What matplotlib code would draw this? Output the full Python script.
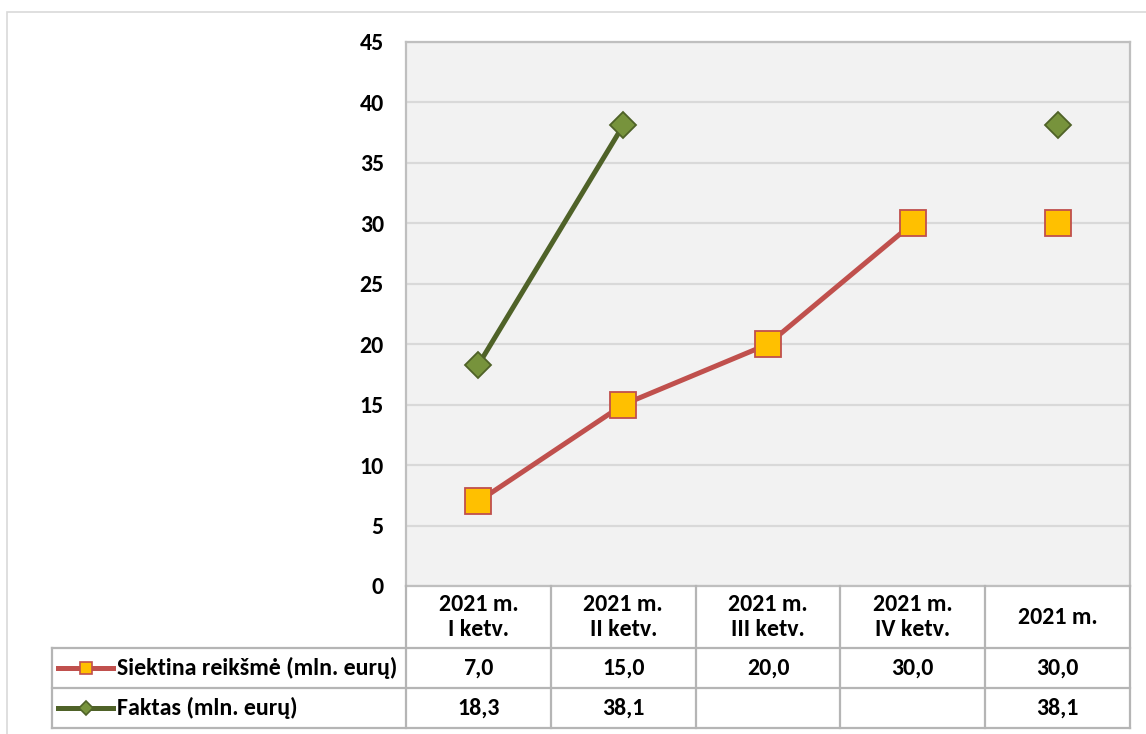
import numpy as np
import matplotlib
matplotlib.use("Agg")
import matplotlib.pyplot as plt
from matplotlib.lines import Line2D
from matplotlib.patches import Rectangle
import matplotlib.transforms as mtransforms

plt.rcParams['font.family'] = ['Carlito', 'DejaVu Sans']
plt.rcParams['font.weight'] = 'bold'

categories = ["2021 m.\nI ketv.", "2021 m.\nII ketv.", "2021 m.\nIII ketv.", "2021 m.\nIV ketv.", "2021 m."]
target = [7.0, 15.0, 20.0, 30.0, 30.0]
actual = [18.3, 38.1, np.nan, np.nan, 38.1]
series_names = ["Siektina reikšmė (mln. eurų)", "Faktas (mln. eurų)"]
yticks = [0, 5, 10, 15, 20, 25, 30, 35, 40, 45]

W, H = 1146, 734
fig = plt.figure(figsize=(W / 100, H / 100), dpi=100)

def fx(px):
    return px / W

def fy(py):
    return 1 - py / H

# figure outer border
fig.add_artist(Rectangle((fx(7), fy(800)), fx(1200), fy(12) - fy(800), transform=fig.transFigure,
                         fill=False, edgecolor='#D9D9D9', linewidth=1.2))

L, R, T, B = 406, 1130, 42, 586
ax = fig.add_axes([fx(L), fy(B), fx(R - L), fy(T) - fy(B)])
ax.set_facecolor('#F2F2F2')
n = len(categories)
x = np.arange(n)
ax.set_xlim(-0.5, n - 0.5)
ax.set_ylim(0, 45)
fs = 17.2
ax.set_yticks(yticks)
ax.set_yticklabels([str(v) for v in yticks], fontsize=fs, fontweight='bold')
ax.tick_params(axis='y', length=0, pad=16)
ax.set_xticks([])
ax.grid(axis='y', color='#D9D9D9', linewidth=1.6)
ax.set_axisbelow(True)
for s in ax.spines.values():
    s.set_color('#BFBFBF')
    s.set_linewidth(1.6)

red = '#C0504D'
sq_fill = '#FFC000'
green = '#4F6228'
dia_fill = '#77933C'

# target: line over quarters, markers at all points
ax.plot(x[:4], target[:4], color=red, linewidth=3.6, zorder=3, solid_capstyle='butt')
ax.plot(x, target, linestyle='none', marker='s', markersize=19, markerfacecolor=sq_fill,
        markeredgecolor=red, markeredgewidth=1.3, zorder=4)
ax.plot(x[:4], actual[:4], color=green, linewidth=3.6, zorder=3)
ax.plot(x, actual, linestyle='none', marker='D', markersize=13.5, markerfacecolor=dia_fill,
        markeredgecolor=green, markeredgewidth=1.3, zorder=4)

# data table
tc = '#B5B5B5'
tlw = 1.6
r0, r1, r2, r3 = 586, 648, 688, 728
TL = 52
def hline(y, x0, x1):
    fig.add_artist(Line2D([fx(x0), fx(x1)], [fy(y), fy(y)], transform=fig.transFigure, color=tc, linewidth=tlw))
def vline(xp, y0, y1):
    fig.add_artist(Line2D([fx(xp), fx(xp)], [fy(y0), fy(y1)], transform=fig.transFigure, color=tc, linewidth=tlw))

hline(r1, TL, R)
hline(r2, TL, R)
hline(r3, TL, R)
vline(TL, r1, r3)
colw = (R - L) / n
for i in range(n + 1):
    vline(L + i * colw, r0, r3)

trans = mtransforms.blended_transform_factory(ax.transData, fig.transFigure)
for i, c in enumerate(categories):
    ax.text(i, fy((r0 + r1) / 2), c, transform=trans, ha='center', va='center', fontsize=fs,
            fontweight='bold', linespacing=1.2, clip_on=False)
    ax.text(i, fy((r1 + r2) / 2), f"{target[i]:.1f}".replace('.', ','), transform=trans, ha='center',
            va='center', fontsize=fs, fontweight='bold', clip_on=False)
    if not np.isnan(actual[i]):
        ax.text(i, fy((r2 + r3) / 2), f"{actual[i]:.1f}".replace('.', ','), transform=trans, ha='center',
                va='center', fontsize=fs, fontweight='bold', clip_on=False)

# legend keys in table
for row, (ya, yb) in enumerate([(r1, r2), (r2, r3)]):
    yc = fy((ya + yb) / 2)
    col = red if row == 0 else green
    fc = sq_fill if row == 0 else dia_fill
    mk = 's' if row == 0 else 'D'
    ms = 9 if row == 0 else 7
    fig.add_artist(Line2D([fx(58), fx(113)], [yc, yc], transform=fig.transFigure, color=col, linewidth=3.6))
    fig.add_artist(Line2D([fx(86)], [yc], transform=fig.transFigure, linestyle='none', marker=mk,
                          markersize=ms, markerfacecolor=fc, markeredgecolor=col, markeredgewidth=1.2))
    fig.text(fx(117), yc, series_names[row], ha='left', va='center', fontsize=fs, fontweight='bold')

fig.savefig('out.png', dpi=100)
